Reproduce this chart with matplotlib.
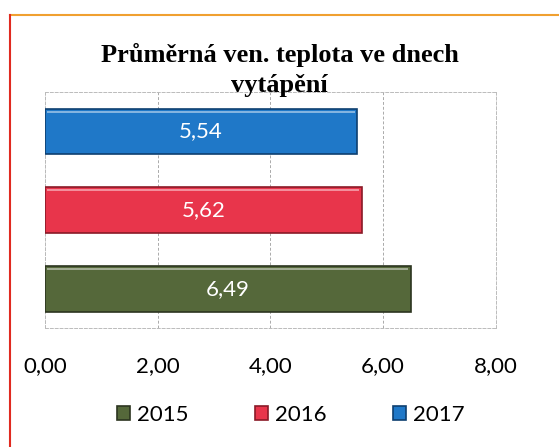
import matplotlib
matplotlib.use('Agg')
import matplotlib.pyplot as plt
from matplotlib.lines import Line2D

years = ['2015', '2016', '2017']
values = [6.49, 5.62, 5.54]
colors = ['#55683a', '#e8354b', '#1f78c8']
edges = ['#2c3520', '#8a1a28', '#0e3f70']
ticks = [0, 2, 4, 6, 8]

title = 'Průměrná ven. teplota ve dnech\nvytápění'

fig = plt.figure(figsize=(5.59, 4.47), dpi=100)
ax = fig.add_axes([0.0805, 0.266, 0.8065, 0.528])

pos = list(range(len(years)))
bars = []
for i in pos:
    b = ax.barh(i, values[i], height=0.58, color=colors[i], edgecolor=edges[i],
                linewidth=1.2, label=years[i], zorder=3)
    bars.append(b)
    # light bevel on the top edge
    ax.barh(i + 0.25, values[i] - 0.08, left=0.04, height=0.025, color='white',
            alpha=0.45, linewidth=0, zorder=4)
    txt = ('%.2f' % values[i]).replace('.', ',')
    ax.text(values[i] / 2, i, txt, color='white', ha='center', va='center',
            fontsize=16, family='Lato', zorder=5)

ax.set_xlim(0, 8)
ax.set_ylim(-0.5, 2.5)
ax.set_xticks(ticks)
ax.set_xticklabels([('%.2f' % t).replace('.', ',') for t in ticks],
                   fontsize=16, family='Lato')
ax.set_yticks([])
ax.tick_params(axis='x', length=0, pad=20)
ax.grid(axis='x', color='#aaaaaa', linestyle=(0, (3, 2)), linewidth=0.7, zorder=0)
for s in ax.spines.values():
    s.set_color('#bbbbbb')
    s.set_linestyle((0, (3, 2)))
    s.set_linewidth(0.7)

fig.text(0.5, 0.843, title, ha='center', va='center', fontsize=19,
         fontweight='bold', family='Liberation Serif', linespacing=1.4)

fig.legend(handles=[b for b in bars], labels=years, loc='center',
           bbox_to_anchor=(0.52, 0.072), ncol=3, frameon=False,
           prop={'family': 'Lato', 'size': 16}, handlelength=0.6,
           handleheight=0.6, handletextpad=0.3, columnspacing=3.0)

# scanned frame edges
fig.add_artist(Line2D([0.018, 1.0], [0.966, 0.966], color='#f0a030', linewidth=1.5))
fig.add_artist(Line2D([0.018, 0.018], [0.0, 0.966], color='#e02a20', linewidth=1.5))

fig.savefig('out.png', dpi=100)
